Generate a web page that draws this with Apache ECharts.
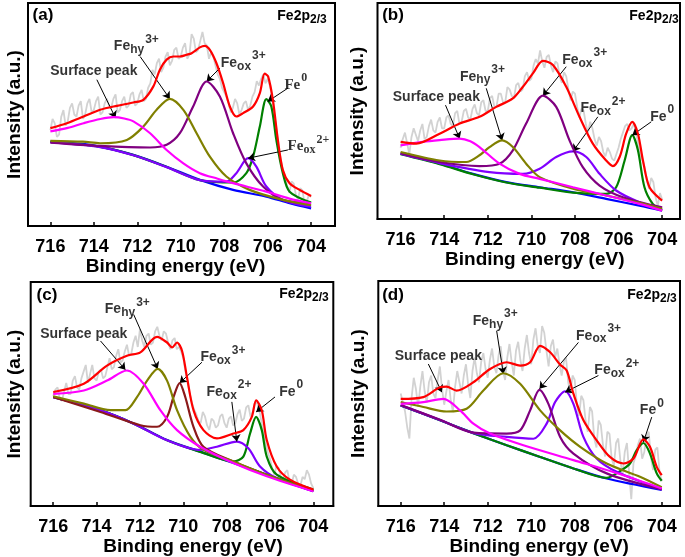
<!DOCTYPE html>
<html><head><meta charset="utf-8">
<script src="https://cdn.jsdelivr.net/npm/echarts@6/dist/echarts.min.js"></script>
<style>html,body{margin:0;padding:0;background:#fff}#c{width:685px;height:557px}</style>
</head><body><div id="c"></div>
<script>
const ticksX = [716,714,712,710,708,706,704];
const rawEnergy = [716.0,715.9,715.8,715.7,715.6,715.5,715.4,715.3,715.2,715.1,
 715.0,714.9,714.8,714.7,714.6,714.5,714.4,714.3,714.2,714.1,
 714.0,713.9,713.8,713.7,713.6,713.5,713.4,713.3,713.2,713.1,
 713.0,712.9,712.8,712.7,712.6,712.5,712.4,712.3,712.2,712.1,
 712.0,711.9,711.8,711.7,711.6,711.5,711.4,711.3,711.2,711.1,
 711.0,710.9,710.8,710.7,710.6,710.5,710.4,710.3,710.2,710.1,
 710.0,709.9,709.8,709.7,709.6,709.5,709.4,709.3,709.2,709.1,
 709.0,708.9,708.8,708.7,708.6,708.5,708.4,708.3,708.2,708.1,
 708.0,707.9,707.8,707.7,707.6,707.5,707.4,707.3,707.2,707.1,
 707.0,706.9,706.8,706.7,706.6,706.5,706.4,706.3,706.2,706.1,
 706.0,705.9,705.8,705.7,705.6,705.5,705.4,705.3,705.2,705.1,
 705.0,704.9,704.8,704.7,704.6,704.5,704.4,704.3,704.2,704.1,
 704.0];

const rawA = [43,48,46,40,41,49,52,45,47,53, 55,50,49,54,56,48,50,55,57,51,
 52,56,58,50,51,55,57,54,53,57, 59,51,52,56,58,53,54,59,60,54,
 55,59,61,56,57,62,64,70,68,73, 75,69,71,76,78,72,74,79,80,75,
 76,80,82,75,77,86,84,78,79,83, 87,82,81,75,78,76,72,68,66,62,
 60,58,55,51,53,57,55,50,52,55, 56,52,54,58,60,65,63,66,68,64,
 66,63,58,50,44,36,30,25,22,18, 15,20,19,14,12,17,16,10,11,14, 13];
const rawB = [33,37,40,35,30,38,42,39,36,41, 44,37,38,43,46,41,40,45,47,42,
 42,47,48,44,43,49,50,44,45,50, 51,47,46,51,53,49,48,54,55,50,
 50,56,57,52,52,58,58,54,54,61, 60,57,56,62,63,59,60,66,68,64,
 65,71,74,72,78,73,70,75,76,71, 68,73,72,66,63,68,66,60,55,59,
 58,52,47,51,50,44,40,45,42,37, 34,38,36,31,29,33,31,28,27,30,
 33,37,40,43,44,41,42,44,40,35, 30,27,24,18,14,19,17,10,6,12, 9];
const rawC = [49,52,53,48,47,51,55,50,50,56, 58,53,52,57,60,63,55,59,63,57,
 56,60,61,57,58,62,66,61,62,67, 70,64,65,69,72,67,68,73,76,71,
 79,74,71,76,77,72,73,78,80,76, 74,78,77,73,70,74,75,70,71,69,
 66,60,55,50,46,43,41,38,37,42, 40,36,34,39,38,35,36,40,41,37,
 35,39,40,36,37,41,43,38,39,44, 45,40,42,46,46,43,38,33,28,24,
 21,17,14,18,17,13,12,15,16,11, 10,14,13,10,9,13,12,16,14,10, 8];
const rawD = [50,46,42,35,30,48,57,52,44,53, 60,51,46,55,58,50,48,56,62,52,
 45,51,56,47,42,53,60,55,50,58, 63,54,48,60,66,59,55,64,68,61,
 57,65,70,62,59,67,71,60,56,66, 72,64,58,69,73,65,60,70,76,68,
 63,74,79,71,68,80,77,69,62,71, 74,66,70,63,58,64,66,55,50,58,
 56,45,40,49,47,38,33,44,42,30, 26,38,36,27,22,33,32,21,18,28,
 30,20,14,24,28,15,3,19,22,27, 30,21,24,31,33,22,16,25,26,15, 11];

// Panel (a)
const redA = [[716,43.9],[715.24,46.1],[714.47,49.1],[713.71,52.1],[712.94,53.9],[712.18,55.4],[711.72,56.6],[711.26,62.6],[710.96,70.1],[710.65,74.6],[710.34,76.0],[710.04,76.0],[709.73,76.8],[709.5,77.5],[709.12,80.1],[708.89,80.8],[708.66,79.0],[708.36,73.1],[708.05,64.1],[707.74,53.6],[707.44,49.1],[707.13,50.6],[706.67,53.6],[706.36,59.6],[706.14,68.3],[705.98,67.1],[705.76,56.6],[705.53,38.6],[705.3,25.1],[704.99,19.2],[704.53,16.2],[704,13.5]];
const magA = [[716,42.4],[715.2,44.0],[714.47,46.1],[713.7,48.0],[713.09,48.8],[712.6,48.2],[712.18,46.9],[711.41,41.6],[710.65,34.1],[709.88,28.1],[709.12,23.7],[708.3,21.2],[707.59,19.2],[706.06,15.4],[705,12.3],[704,10.2]];
const baseA = [[716,37.9],[714.5,36.8],[713.71,35.6],[712.18,31.9],[710.65,26.6],[709.12,20.7],[707.59,16.2],[706.06,13.2],[704.99,10.2],[704,7.9]];
const olvA = [[716,38.2],[714.5,37.8],[713.71,37.1],[712.48,38.6],[711.72,44.6],[711.11,52.1],[710.5,57.0],[709.88,52.1],[709.27,41.6],[708.66,31.1],[707.9,22.2],[706.83,16.2],[705.3,11.7],[704,9.4]];
const purA = [[716,37.4],[713.71,35.9],[711.41,35.2],[710.65,36.4],[710.04,41.6],[709.43,53.6],[708.81,64.8],[708.2,58.1],[707.59,41.6],[706.98,28.1],[706.21,17.7],[705.3,11.7],[704,10.2]];
const vioA = [[716,37.6],[713.71,35.4],[712.18,31.7],[710.65,26.4],[709.12,20.6],[707.9,19.9],[707.44,23.7],[706.9,30.4],[706.52,26.6],[706.06,17.7],[705.3,11.7],[704,8.7]];
const grnA = [[716,37.7],[713.71,35.5],[712.18,31.8],[710.65,26.5],[709.12,20.6],[707.59,19.5],[706.98,23.7],[706.67,31.1],[706.36,44.6],[706.06,56.9],[705.83,53.6],[705.6,38.6],[705.3,23.7],[704.99,15.4],[704,10.5]];
const annA = [[714.0,69.3,'surf'],[712.02,80.5,'hy3'],[707.1,73.1,'ox3'],[704.68,63.3,'fe0s'],[704.1,35.6,'ox2s']];
const arrA = [[713.86,65.6,713.0,48.4],[711.87,76.0,710.5,57.0],[708.2,70.8,708.81,64.8],[705.07,61.8,706.0,55.8],[705.07,34.1,706.9,30.4]];

// Panel (b)
const redB = [[716,35.7],[715.28,34.9],[714.21,39.5],[713.29,44.2],[712.38,47.3],[711.61,51.9],[710.85,55.8],[710.39,61.2],[709.93,67.4],[709.47,73.2],[709.01,71.3],[708.4,61.2],[707.79,47.3],[707.18,34.9],[706.57,27.1],[706.26,24.5],[705.95,28.7],[705.65,39.5],[705.37,45.0],[705.11,39.5],[704.88,27.1],[704.58,14.7],[704,8.5]];
const magB = [[716,34.1],[714.98,35.7],[714.21,36.5],[713.29,37.2],[712.8,36.0],[712.38,33.3],[711.46,25.6],[710.54,20.9],[709.62,18.6],[708.09,14.7],[706.57,10.9],[705.04,7.0],[704,3.9]];
const baseB = [[716,30.2],[714.21,25.6],[712.68,20.9],[711.15,17.1],[709.62,14.7],[708.09,12.4],[706.57,9.3],[705.04,6.2],[704,3.9]];
const olvB = [[716,31.0],[714.21,27.1],[712.99,26.4],[712.38,29.5],[711.92,33.3],[711.34,36.4],[710.85,33.3],[710.24,25.6],[709.62,19.4],[708.09,14.0],[706.57,10.9],[705.04,7.5],[704,4.7]];
const purB = [[716,30.5],[714.21,26.4],[712.38,24.5],[711.46,25.6],[710.85,31.8],[710.24,44.2],[709.47,57.1],[708.86,51.9],[708.25,36.4],[707.64,24.0],[706.87,15.5],[705.8,10.1],[704,5.4]];
const vioB = [[716,30.2],[714.21,25.9],[711.92,21.7],[710.39,20.9],[709.62,23.3],[708.86,28.7],[708.09,31.3],[707.48,28.7],[706.87,20.9],[706.11,13.2],[705.04,7.8],[704,4.7]];
const grnB = [[716,30.0],[714.21,25.4],[712.68,20.7],[711.15,16.9],[709.62,14.5],[708.09,12.2],[706.57,11.6],[706.11,14.7],[705.72,27.1],[705.37,38.8],[705.11,31.8],[704.81,14.7],[704.43,7.0],[704,3.9]];
const annB = [[714.36,56.6,'surf'],[712.22,65.9,'hy3'],[707.53,73.6,'ox3'],[706.69,51.2,'ox2'],[703.97,47.3,'fe0']];
const arrB = [[713.94,52.7,713.29,37.2],[712.07,60.5,711.34,36.4],[708.4,70.5,709.47,57.1],[706.95,47.3,708.09,31.3],[704.5,45.0,705.37,38.8]];

// Panel (c)
const redC = [[716,50.9],[714.59,54.6],[713.52,62.7],[712.6,67.1],[711.98,68.6],[711.21,75.5],[710.75,73.0],[710.52,70.8],[710.29,73.0],[710.06,69.3],[709.83,57.5],[709.53,42.8],[709.07,33.9],[708.45,30.2],[707.69,32.4],[707.23,33.9],[706.84,39.8],[706.64,47.2],[706.38,42.8],[706.15,29.5],[705.69,17.7],[705.08,11.8],[704,7.4]];
const magC = [[716,50.1],[714.59,51.6],[713.52,56.0],[712.6,60.5],[711.83,54.6],[711.06,42.8],[710.29,33.9],[709.22,26.5],[707.69,19.2],[706.15,13.3],[704,6.6]];
const baseC = [[716,48.7],[713.82,42.8],[712.29,36.9],[710.75,29.5],[709.22,24.3],[707.69,19.2],[706.15,14.0],[704,6.6]];
const olvC = [[716,49.0],[714.59,45.7],[713.36,42.8],[712.67,42.8],[712.13,48.7],[711.67,56.0],[711.18,61.2],[710.75,56.0],[710.29,42.8],[709.68,31.0],[709.07,25.1],[707.69,19.9],[706.15,14.0],[704,6.9]];
const marC = [[716,48.7],[713.82,42.0],[711.98,36.1],[711.21,35.4],[710.75,39.8],[710.45,48.7],[710.17,54.9],[709.91,48.7],[709.53,35.4],[709.07,26.5],[707.69,19.9],[706.15,14.0],[704,6.9]];
const vioC = [[716,48.6],[713.82,42.7],[712.29,36.8],[710.75,29.4],[709.22,25.1],[708.45,26.5],[707.53,28.8],[707.0,25.8],[706.46,17.7],[705.69,12.5],[704,6.6]];
const grnC = [[716,48.6],[713.82,42.7],[712.29,36.8],[710.75,29.4],[709.22,24.2],[707.69,19.9],[707.23,22.1],[706.92,32.4],[706.64,39.8],[706.38,33.9],[706.15,22.1],[705.69,14.0],[704,7.4]];
const annC = [[714.59,76.7,'surf'],[712.56,87.8,'hy3'],[708.15,66.4,'ox3'],[707.87,50.9,'ox2'],[705.0,50.9,'fe0']];
const arrC = [[713.82,73.7,712.67,60.8],[712.29,85.5,711.18,61.2],[709.14,64.2,710.17,54.9],[707.76,46.5,707.53,28.8],[705.77,48.7,706.64,42.0]];

// Panel (d)
const redD = [[716,47.6],[714.96,48.4],[714.19,52.8],[713.89,53.1],[713.43,51.3],[712.66,55.0],[711.89,60.9],[711.13,63.9],[710.51,62.4],[710.05,63.9],[709.59,71.2],[709.13,68.3],[708.67,62.8],[708.37,60.2],[708.06,49.9],[707.6,38.1],[706.99,29.2],[706.38,21.8],[705.76,18.9],[705.3,21.1],[704.84,29.6],[704.54,26.3],[704.23,17.4],[704,13.7]];
const magD = [[716,45.4],[714.96,46.2],[714.04,47.6],[713.27,42.5],[712.66,36.6],[711.89,32.2],[710.36,27.0],[708.06,20.4],[705.76,13.7],[704,7.8]];
const baseD = [[716,44.7],[714.19,38.1],[712.66,32.4],[711.13,27.0],[709.59,21.8],[708.06,16.7],[706.53,12.2],[704,7.1]];
const olvD = [[716,46.2],[714.96,44.0],[713.89,42.0],[712.97,43.2],[712.2,51.3],[711.28,59.0],[710.51,54.3],[709.59,42.5],[708.67,33.6],[707.75,26.3],[706.53,18.9],[705.0,13.0],[704,8.3]];
const purD = [[716,44.9],[714.19,38.3],[712.66,32.6],[711.13,32.2],[710.51,33.6],[710.05,42.5],[709.62,51.6],[709.21,45.4],[708.67,30.7],[708.06,23.3],[706.53,14.5],[704,7.4]];
const vioD = [[716,44.8],[714.19,38.2],[712.66,32.5],[711.13,30.7],[709.9,29.9],[709.29,36.6],[708.9,46.2],[708.44,51.0],[708.06,45.4],[707.6,30.7],[706.99,21.1],[706.07,15.2],[704,7.4]];
const grnD = [[716,44.7],[714.19,38.1],[712.66,32.4],[711.13,27.0],[709.59,21.8],[708.06,16.7],[706.53,12.5],[705.92,15.5],[705.46,18.9],[705.15,24.8],[704.84,28.0],[704.54,23.3],[704.23,14.5],[704,11.2]];
const annD = [[714.27,66.8,'surf'],[711.63,82.3,'hy3'],[706.88,75.7,'ox3'],[706.04,60.2,'ox2'],[704.43,42.5,'fe0']];
const arrD = [[714.73,63.1,714.11,50.6],[711.59,77.9,711.28,58.7],[707.83,72.7,709.62,52.1],[706.91,58.0,708.44,50.6],[704.46,39.5,704.84,28.5]];

const FONT = '"Liberation Sans", Arial, sans-serif';
const SERIF = '"Liberation Serif", "Times New Roman", serif';
const labelText = {
  surf: '{fe|Surface peak}',
  hy3: '{fe|Fe}{sub|hy}{sup|3+}',
  ox3: '{fe|Fe}{sub|ox}{sup|3+}',
  ox2: '{fe|Fe}{sub|ox}{sup|2+}',
  fe0: '{fe|Fe}{sup|0}',
  ox2s: '{feS|Fe}{subS|ox}{supS|2+}',
  fe0s: '{feS|Fe}{supS|0}'
};
function tok(size, fam, pad) {
  return {fontSize:size, fontWeight:'bold', fontFamily:fam, color:'#000', lineHeight:size + 2, verticalAlign:'middle', padding:pad};
}
const rich = {
  fe: tok(14, FONT, [0,0,0,0]),
  sub: tok(12, FONT, [7,0,0,0]),
  sup: tok(12, FONT, [0,1,14,1]),
  feS: tok(15, SERIF, [0,0,0,0]),
  subS: tok(12, SERIF, [7,0,0,0]),
  supS: tok(12, SERIF, [0,1,14,1])
};

const panels = [
  {grid:{left:28, top:3, width:307, height:223}, min:702.9, max:717.03, raw:rawA, yGap:4, tPad:[0,12,0,0],
   curves:[[baseA,'#0000ff'],[grnA,'#008000'],[vioA,'#8000ff'],[purA,'#800080'],[olvA,'#808000'],[magA,'#ff00ff'],[redA,'#ff0000']],
   ann:annA, arr:arrA, tag:'(a)', tagPos:[43,15], hdrPos:[302,16]},
  {grid:{left:377.5, top:3, width:302.5, height:216}, min:703.18, max:717.06, raw:rawB, yGap:10, tPad:[0,0,0,12],
   curves:[[baseB,'#0000ff'],[grnB,'#008000'],[vioB,'#8000ff'],[purB,'#800080'],[olvB,'#808000'],[magB,'#ff00ff'],[redB,'#ff0000']],
   ann:annB, arr:arrB, tag:'(b)', tagPos:[393,15], hdrPos:[654,16]},
  {grid:{left:30.7, top:282, width:302.6, height:225}, min:703.08, max:717.04, raw:rawC, yGap:6, tPad:[0,0,0,22],
   curves:[[baseC,'#0000ff'],[grnC,'#008000'],[vioC,'#8000ff'],[marC,'#8b1a1a'],[olvC,'#808000'],[magC,'#ff00ff'],[redC,'#ff0000']],
   ann:annC, arr:arrC, tag:'(c)', tagPos:[47,295], hdrPos:[304,294]},
  {grid:{left:378.3, top:281, width:301.7, height:225}, min:703.16, max:717.03, raw:rawD, yGap:10, tPad:[0,0,0,20],
   curves:[[baseD,'#0000ff'],[grnD,'#008000'],[vioD,'#8000ff'],[purD,'#800080'],[olvD,'#808000'],[magD,'#ff00ff'],[redD,'#ff0000']],
   ann:annD, arr:arrD, tag:'(d)', tagPos:[393,295], hdrPos:[652,295]}
];

const grids = [], xAxes = [], yAxes = [], series = [], graphics = [];
panels.forEach((p, i) => {
  grids.push(Object.assign({show:true, borderColor:'#000', borderWidth:2, backgroundColor:'transparent'}, p.grid));
  xAxes.push({gridIndex:i, type:'value', min:p.min, max:p.max, inverse:true,
    axisLine:{show:true, lineStyle:{color:'#000', width:2}},
    splitLine:{show:false},
    axisTick:{show:true, inside:true, length:4, lineStyle:{color:'#000', width:1.5}, customValues:ticksX},
    axisLabel:{customValues:ticksX, fontSize:18, fontWeight:'bold', color:'#000', fontFamily:FONT, margin:12},
    name:'Binding energy (eV)', nameLocation:'middle', nameGap:29,
    nameTextStyle:{fontSize:19, fontWeight:'bold', color:'#000', fontFamily:FONT, padding:p.tPad}});
  yAxes.push({gridIndex:i, type:'value', min:0, max:100,
    axisLine:{show:false}, axisTick:{show:false}, axisLabel:{show:false}, splitLine:{show:false},
    name:'Intensity (a.u.)', nameLocation:'middle', nameGap:p.yGap,
    nameTextStyle:{fontSize:19, fontWeight:'bold', color:'#000', fontFamily:FONT}});
  series.push({type:'line', xAxisIndex:i, yAxisIndex:i, symbol:'none', silent:true,
    data: rawEnergy.map((e,k)=>[e, p.raw[k]]),
    lineStyle:{color:'#d2d2d2', width:1.8}, z:1});
  p.curves.forEach(([d, c], k) => {
    series.push({type:'line', xAxisIndex:i, yAxisIndex:i, symbol:'none', silent:true, smooth:0.3,
      data:d, lineStyle:{color:c, width:2.2}, z:2+k});
  });
  series.push({type:'scatter', xAxisIndex:i, yAxisIndex:i, symbolSize:1, silent:true,
    itemStyle:{color:'rgba(0,0,0,0)'}, z:20,
    data: p.ann.map(a => ({value:[a[0], a[1]], t:labelText[a[2]]})),
    label:{show:true, position:'inside', formatter: q => q.data.t, rich:rich},
    markLine:{silent:true, symbol:['none','arrow'], symbolSize:7, label:{show:false},
      lineStyle:{color:'#000', width:1, type:'solid'},
      data: p.arr.map(a => [{coord:[a[0], a[1]]}, {coord:[a[2], a[3]]}])}
  });
  graphics.push({type:'text', x:p.tagPos[0], y:p.tagPos[1], style:{text:p.tag, align:'center', verticalAlign:'middle', font:'bold 17px ' + FONT, fill:'#000'}});
  graphics.push({type:'text', x:p.hdrPos[0], y:p.hdrPos[1], style:{text:'{h|Fe2p}{s|2/3}', align:'center', verticalAlign:'middle',
    rich:{h:{fontSize:14, fontWeight:'bold', fontFamily:FONT, fill:'#000', lineHeight:16, verticalAlign:'middle'},
          s:{fontSize:12, fontWeight:'bold', fontFamily:FONT, fill:'#000', lineHeight:14, verticalAlign:'middle', padding:[8,0,0,0]}}}});
});

const chart = echarts.init(document.getElementById('c'), null, {renderer:'canvas'});
chart.setOption({animation:false, backgroundColor:'#fff', grid:grids, xAxis:xAxes, yAxis:yAxes, series:series, graphic:graphics});
</script>
</body></html>
